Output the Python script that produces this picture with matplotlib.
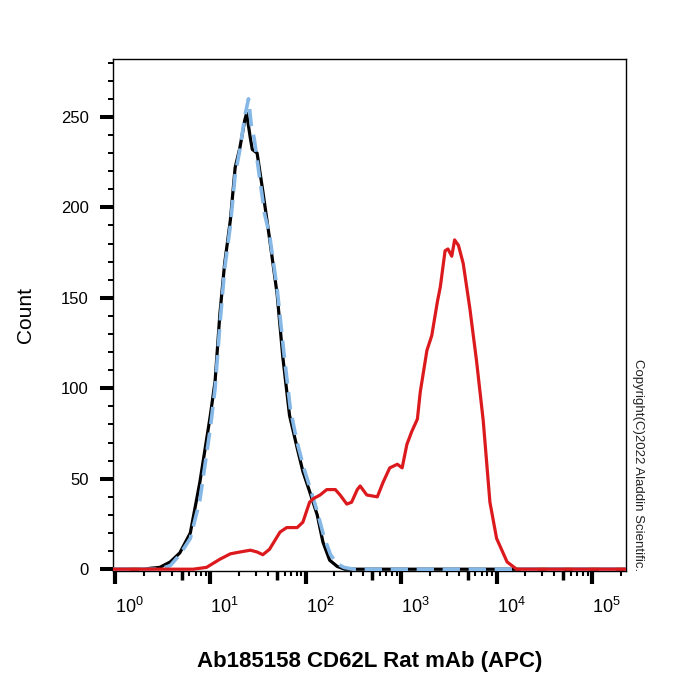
import numpy as np
import matplotlib
matplotlib.use('Agg')
import matplotlib.pyplot as plt
from matplotlib.ticker import FixedLocator, LogLocator, MultipleLocator, NullFormatter

plt.rcParams['font.family'] = ['Liberation Sans', 'DejaVu Sans']
plt.rcParams['mathtext.fontset'] = 'custom'
plt.rcParams['mathtext.rm'] = 'Liberation Sans'

# DATOS (posicion en decadas log10, cuentas)
black_log = [0.31, 0.37, 0.47, 0.58, 0.68, 0.79, 0.89, 1.00, 1.05, 1.10, 1.15, 1.21,
             1.26, 1.31, 1.36, 1.38, 1.42, 1.44, 1.49, 1.55, 1.62, 1.70, 1.76, 1.83,
             1.91, 1.97, 2.04, 2.12, 2.18, 2.25, 2.33, 2.41]
black_cnt = [0, 0.5, 1, 4, 9, 20, 48, 85, 104, 141, 169, 193,
             222, 233, 248, 252, 238, 232, 230, 209, 183, 152, 117, 85,
             67, 54, 43, 30, 15, 5, 1.5, 0]

blue_log = [0.47, 0.58, 0.68, 0.79, 0.89, 1.00, 1.05, 1.10, 1.15, 1.21, 1.26, 1.31,
            1.36, 1.40, 1.43, 1.46, 1.52, 1.57, 1.62, 1.70, 1.77, 1.84, 1.91, 1.98,
            2.05, 2.12, 2.19, 2.26, 2.33, 2.40, 2.50]
blue_cnt = [0, 2, 8, 17, 38, 78, 100, 135, 166, 190, 218, 232,
            250, 260, 245, 238, 215, 196, 185, 155, 120, 88, 70, 56,
            44, 32, 18, 8, 3, 1, 0]

red_log = [0.82, 0.96, 1.10, 1.21, 1.31, 1.42, 1.49, 1.55, 1.62, 1.73, 1.80, 1.91,
           1.97, 2.04, 2.08, 2.15, 2.22, 2.31, 2.36, 2.43, 2.48, 2.54, 2.57, 2.64,
           2.75, 2.81, 2.88, 2.96, 3.01, 3.06, 3.11, 3.17, 3.20, 3.27, 3.32, 3.38,
           3.41, 3.46, 3.49, 3.53, 3.56, 3.60, 3.65, 3.72, 3.79, 3.86, 3.93, 4.00,
           4.11, 4.21]
red_cnt = [0, 1, 5.5, 8.5, 9.5, 10.5, 9.5, 8, 11, 20.5, 23, 23,
           26, 37, 39, 41, 44, 44, 41, 36, 37, 44, 46, 41,
           40, 48, 56, 58, 56, 69, 76, 83, 98, 121, 129, 148,
           156, 176, 177, 173, 182, 179, 169, 144, 115, 82, 37, 17,
           4, 0]

xmin_log = -0.02
xmax_log = 5.356

def serie(logs, cnts):
    # completa la linea base hasta los bordes del eje
    x = np.concatenate(([xmin_log], logs, [xmax_log]))
    y = np.concatenate(([0], cnts, [0]))
    return 10**x, y

fig = plt.figure(figsize=(7, 7), dpi=100)
ax = fig.add_axes([113/700, 1-571/700, 513/700, 512/700])

xb, yb = serie(black_log, black_cnt)
xl, yl = serie(blue_log, blue_cnt)
xr, yr = serie(red_log, red_cnt)
ax.plot(xb, yb, color='black', lw=2.3, zorder=3)
ax.plot(xl, yl, color='#85B8E6', lw=2.6, ls=(0, (4.8, 2.4)), zorder=4)
ax.plot(xr, yr, color='#DC1A1E', lw=2.3, zorder=5)

ax.set_xscale('log')
ax.set_xlim(10**xmin_log, 10**xmax_log)
ax.set_ylim(-1, 282)

for s in ax.spines.values():
    s.set_linewidth(1.0)

# eje y
ax.yaxis.set_major_locator(FixedLocator([0, 50, 100, 150, 200, 250]))
ax.yaxis.set_minor_locator(MultipleLocator(10))
ax.tick_params(axis='y', which='major', direction='out', length=9.4, width=2.9,
               labelsize=12, pad=8)
ax.tick_params(axis='y', which='minor', direction='out', length=3.6, width=1.4)

# eje x
ax.xaxis.set_major_locator(FixedLocator([1, 10, 100, 1e3, 1e4, 1e5]))
ax.xaxis.set_minor_locator(LogLocator(base=10, subs=[2, 3, 4, 6, 7, 8, 9], numticks=20))
ax.xaxis.set_minor_formatter(NullFormatter())
ax.set_xticklabels([r'$\mathregular{10^{%d}}$' % i for i in range(6)])
ax.tick_params(axis='x', which='major', direction='out', length=9, width=3.0,
               labelsize=13, pad=10)
ax.tick_params(axis='x', which='minor', direction='out', length=3.8, width=1.5)
for lab in ax.get_xticklabels():
    lab.set_horizontalalignment('left')

# ticks medianos en 5x10^n
sec = ax.secondary_xaxis('bottom')
sec.set_xticks([5, 50, 500, 5e3, 5e4])
sec.xaxis.set_minor_locator(FixedLocator([]))
sec.set_xticklabels([])
sec.tick_params(axis='x', which='major', direction='out', length=6.5, width=2.5)
sec.spines['bottom'].set_visible(False)

ax.set_ylabel('Count', fontsize=15, labelpad=19)
ax.set_xlabel('Ab185158 CD62L Rat mAb (APC)', fontsize=16, fontweight='bold', labelpad=24)

fig.text(638/700, 1-465/700, 'Copyright(C)2022 Aladdin Scientific.', rotation=-90,
         fontsize=9.5, ha='center', va='center', color='#222222')

fig.savefig('out.png', dpi=100)
